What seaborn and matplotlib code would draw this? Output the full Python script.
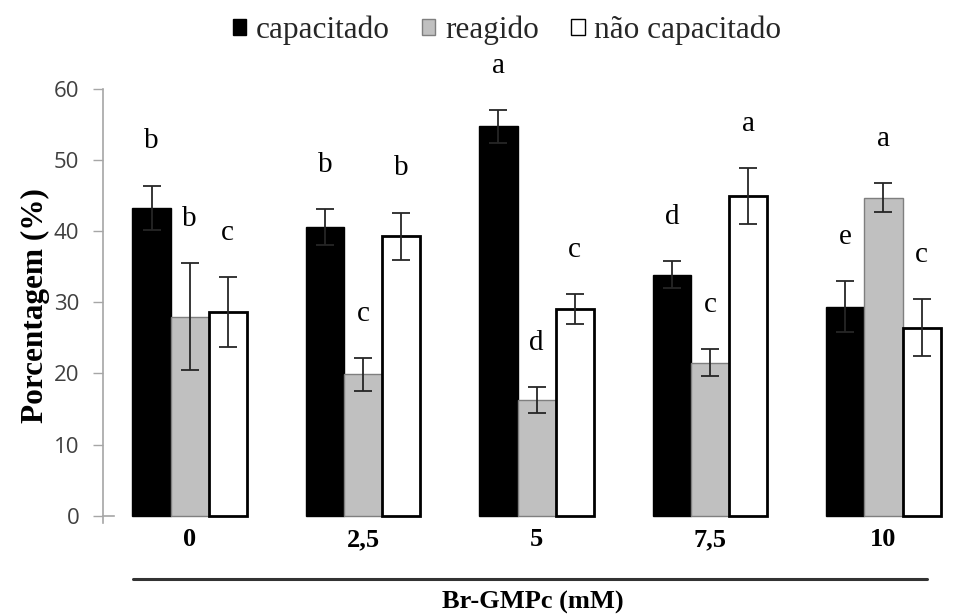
import matplotlib
matplotlib.use("Agg")
import matplotlib.pyplot as plt
import seaborn as sns
import pandas as pd
import numpy as np
from matplotlib.patches import Patch
from matplotlib.lines import Line2D

categories = ["0", "2,5", "5", "7,5", "10"]
series_names = ["capacitado", "reagido", "não capacitado"]
capacitado = [43.3, 40.6, 54.7, 33.9, 29.4]
capacitado_err = [3.1, 2.5, 2.3, 1.9, 3.6]
reagido = [28.0, 19.9, 16.3, 21.5, 44.7]
reagido_err = [7.5, 2.3, 1.8, 1.9, 2.0]
nao_capacitado = [28.6, 39.3, 29.0, 44.9, 26.4]
nao_capacitado_err = [4.9, 3.3, 2.1, 3.9, 4.0]
capacitado_letters = ["b", "b", "a", "d", "e"]
reagido_letters = ["b", "c", "d", "c", "a"]
nao_capacitado_letters = ["c", "b", "c", "a", "c"]
yticks = [0, 10, 20, 30, 40, 50, 60]

values = [capacitado, reagido, nao_capacitado]
errors = [capacitado_err, reagido_err, nao_capacitado_err]
letters = [capacitado_letters, reagido_letters, nao_capacitado_letters]

rows = []
for name, vals in zip(series_names, values):
    for c, v in zip(categories, vals):
        rows.append({"conc": c, "serie": name, "valor": v})
df = pd.DataFrame(rows)

sns.set_theme(style="white")
plt.rcParams["font.family"] = ["Liberation Serif", "DejaVu Serif"]

fills = ["#000000", "#c0c0c0", "#ffffff"]
edges = ["#000000", "#7f7f7f", "#000000"]
edge_w = [1.0, 1.0, 2.0]

fig = plt.figure(figsize=(9.65, 6.14), dpi=100)
ax = fig.add_axes([0.1067, 0.1482, 0.8933, 0.7073])

sns.barplot(data=df, x="conc", y="valor", hue="serie", order=categories,
            hue_order=series_names, palette=fills, width=0.66, gap=0,
            errorbar=None, legend=False, ax=ax, saturation=1)

serif = ["Liberation Serif", "DejaVu Serif"]
bar_containers = list(ax.containers)
for i, cont in enumerate(bar_containers):
    for j, bar in enumerate(cont.patches):
        bar.set_edgecolor(edges[i])
        bar.set_linewidth(edge_w[i])
        bar.set_zorder(2)
        xc = bar.get_x() + bar.get_width() / 2
        v = values[i][j]
        e = errors[i][j]
        ax.errorbar(xc, v, yerr=e, fmt="none", ecolor="#262626",
                    elinewidth=1.3, capsize=6.5, capthick=1.3, zorder=3)
        ax.text(xc, v + e + 6.2, letters[i][j], ha="center", va="center",
                fontsize=21, family=serif, color="black")

# spines first (set_position resets ticks)
for s in ["top", "right"]:
    ax.spines[s].set_visible(False)
ax.spines["bottom"].set_position(("data", 0))
ax.spines["left"].set_color("#a6a6a6")
ax.spines["left"].set_linewidth(1.2)
ax.spines["bottom"].set_color("#a6a6a6")
ax.spines["bottom"].set_linewidth(1.2)

ax.set_ylim(-1, 60)
ax.set_xlim(-0.5, 4.47)
ax.spines["left"].set_bounds(-1, 60)
ax.spines["bottom"].set_bounds(-0.5, -0.437)

ax.set_yticks(yticks)
ax.set_yticklabels([str(t) for t in yticks])
ax.set_xticks(range(len(categories)))
ax.set_xticklabels(categories)
ax.tick_params(axis="y", direction="out", length=7, width=1, color="#a6a6a6",
               pad=10, left=True, labelsize=16, labelcolor="#404040")
ax.tick_params(axis="x", length=0, pad=9, labelsize=19, labelcolor="black")
for lab in ax.get_yticklabels():
    lab.set_family(["Open Sans", "DejaVu Sans"])
for lab in ax.get_xticklabels():
    lab.set_family(serif)
    lab.set_fontweight("bold")

ax.set_ylabel("Porcentagem (%)", family=serif, fontsize=22.5, fontweight="bold",
              color="black")
ax.yaxis.set_label_coords(-0.062, 0.5)
ax.set_xlabel("Br-GMPc (mM)", family=serif, fontsize=19, fontweight="bold",
              color="black")
ax.xaxis.label.set_verticalalignment("center")
ax.xaxis.set_label_coords((533 - 103) / 862, -0.184)

fig.add_artist(Line2D([133 / 965, 927 / 965], [1 - 578.7 / 614, 1 - 578.7 / 614],
                      color="#333333", lw=2.2))

handles = [Patch(facecolor=f, edgecolor=("#000000" if k != 1 else "#7f7f7f"), linewidth=1)
           for k, f in enumerate(fills)]
fig.legend(handles, series_names, loc="center", bbox_to_anchor=(507 / 965, 1 - 30 / 614),
           ncol=3, frameon=False, prop={"family": serif, "size": 22.5},
           handlelength=0.42, handleheight=0.42, handletextpad=0.3, columnspacing=1.05)

fig.savefig("out.png", dpi=100)
